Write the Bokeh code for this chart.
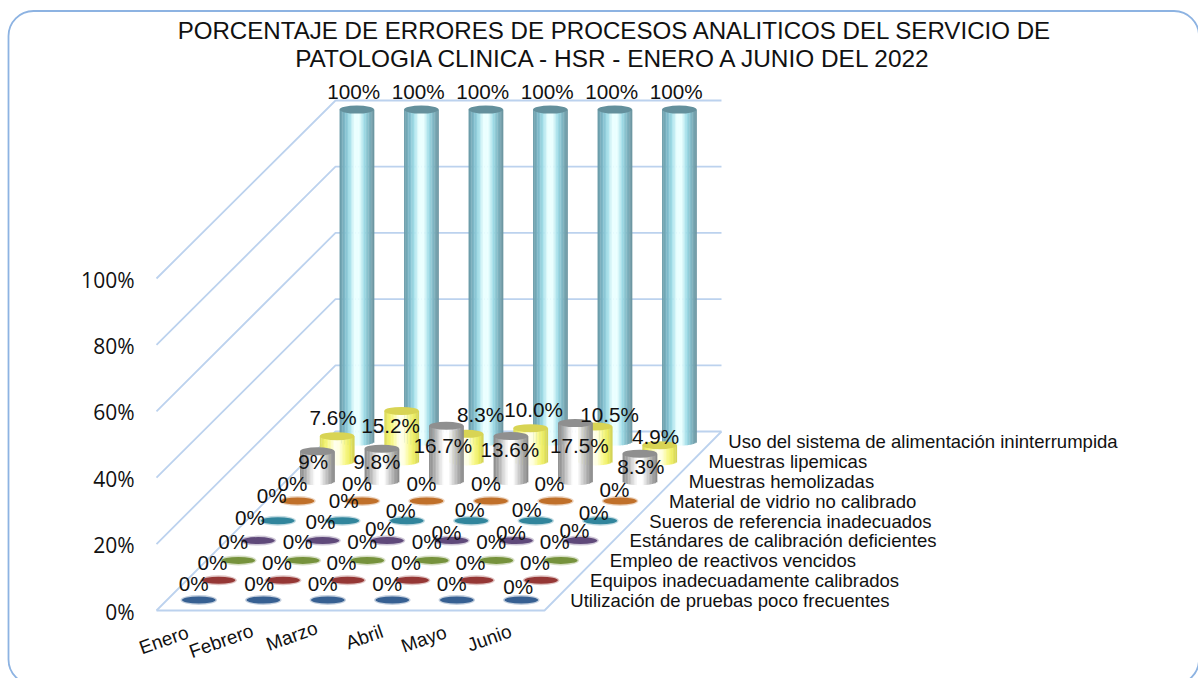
from bokeh.plotting import figure
from bokeh.models import Range1d, BoxAnnotation
from bokeh.core.properties import value
from bokeh.embed import file_html
from bokeh.resources import INLINE
import numpy as np

# ---------- data ----------
title_lines = ["PORCENTAJE DE ERRORES DE PROCESOS ANALITICOS DEL SERVICIO DE",
               "PATOLOGIA CLINICA - HSR - ENERO A JUNIO DEL 2022"]
months = ["Enero", "Febrero", "Marzo", "Abril", "Mayo", "Junio"]
series_names = ["Utilización de pruebas poco frecuentes",
                "Equipos inadecuadamente calibrados",
                "Empleo de reactivos vencidos",
                "Estándares de calibración deficientes",
                "Sueros de referencia inadecuados",
                "Material de vidrio no calibrado",
                "Muestras hemolizadas",
                "Muestras lipemicas",
                "Uso del sistema de alimentación ininterrumpida"]
utilizacion = [0, 0, 0, 0, 0, 0]
equipos = [0, 0, 0, 0, 0, 0]
reactivos = [0, 0, 0, 0, 0, 0]
estandares = [0, 0, 0, 0, 0, 0]
sueros = [0, 0, 0, 0, 0, 0]
vidrio = [0, 0, 0, 0, 0, 0]
hemolizadas = [9, 9.8, 16.7, 13.6, 17.5, 8.3]
lipemicas = [7.6, 15.2, 8.3, 10.0, 10.5, 4.9]
alimentacion = [100, 100, 100, 100, 100, 100]
value_labels = [["0%"] * 6] * 6 + [
    ["9%", "9.8%", "16.7%", "13.6%", "17.5%", "8.3%"],
    ["7.6%", "15.2%", "8.3%", "10.0%", "10.5%", "4.9%"],
    ["100%"] * 6]
ticks = [0, 20, 40, 60, 80, 100]
tick_labels = ["0%", "20%", "40%", "60%", "80%", "100%"]
all_series = [utilizacion, equipos, reactivos, estandares, sueros, vidrio,
              hemolizadas, lipemicas, alimentacion]

# ---------- styling ----------
BASE_COLORS = ["#376092", "#953735", "#76923c", "#5f497a", "#31859c", "#c0702a"]
GRADS = {
    6: (["#8a8a8a", "#a8a8a8", "#d8d8d8", "#ffffff", "#ffffff", "#d0d0d0", "#a8a8a8", "#868686"], "#8f8f8f"),
    7: (["#d8d860", "#f2f268", "#fbfba0", "#ffffee", "#ffffe0", "#fafa90", "#eeee60", "#d0d058"], "#d8d454"),
    8: (["#6a99a6", "#7db8c8", "#a0dde8", "#eaffff", "#eaffff", "#a0dde8", "#7fb5c2", "#6a929d"], "#64909c"),
}
GRID = "#bcd2ee"
FONT = value("Liberation Sans")
# label offsets from the projected top of each column (layout only)
OFF_X = [[-5, -4, -5, -5, -5, -3], [-6, -6, -6, -6, -6, -6], [-5, -5, -5, -5, -5, -6],
         [-8, -2, -7, -5, -5, -6], [-6, 1.5, -6, -1.5, -9, -6.5], [-5, -5, -5, -5, -6, -5.5],
         [-4, -5, -3.5, -1, 4, 1], [-4, -11, 14.5, 3, 14.5, -4], [-3, -3, -3, -3, -3, -3]]
OFF_Y = [[-17, -17, -17, -17, -17, -14], [-18, -18, -18, -18, -18, -18], [-19, -19, -19, -19, -19, -19],
         [-23, -19, -12, -8, -8, -10], [-25, -20, -10, -11, -11, -8], [-18, -18, -18, -18, -18, -12],
         [10, 13, 20, 13.5, 22, 12.6], [-19, 15, -19, -19, -12, -9], [-18, -18, -18, -18, -18, -18]]
MONTH_DX = [-35, -42, -36, -28, -33, -32]
MONTH_DY = [40, 41, 36, 37, 39, 38]
TITLE_SIZE = ["24.1px", "24.4px"]

# projection of (month, series, value) to the picture plane
X0, DX, DXJ = 198.3, 64.5, 19.75
Y0, DYJ, K = 599.5, 19.8, 3.32
def proj(i, j, v=0):
    return X0 + DX * i + DXJ * j, Y0 - DYJ * j - K * v

p = figure(width=1198, height=678, x_range=Range1d(0, 1198), y_range=Range1d(678, 0),
           output_backend="svg", toolbar_location=None, min_border=0,
           background_fill_color="white", border_fill_color="white")
p.axis.visible = False
p.grid.visible = False
p.outline_line_color = None

p.add_layout(BoxAnnotation(left=8, right=1198.5, top=10.5, bottom=684, border_radius=25,
                           fill_alpha=0, line_color="#8db3e2", line_alpha=1, line_width=1.8))

# walls and floor
for t in ticks:
    xb, yb = 335, 431 - 3.31 * t
    yl = 610 - 3.32 * t
    p.line([156, xb, 721], [yl, yb, yb], line_color=GRID, line_width=1.8)
p.line([156, 544, 721], [610, 610, 431], line_color=GRID, line_width=1.8)

# columns, back to front
W, H = 34.5, 8
for j in range(8, -1, -1):
    for i, v in enumerate(all_series[j]):
        cx, cy = proj(i, j)
        if j in GRADS:
            stops, top = GRADS[j]
            tx, ty = proj(i, j, v)
            n = 24
            edges = np.linspace(-W / 2, W / 2, n + 1)
            mids = (edges[:-1] + edges[1:]) / 2
            cols = []
            for m in mids:
                f = (m + W / 2) / W * (len(stops) - 1)
                a = int(f)
                b = min(a + 1, len(stops) - 1)
                ca = np.array([int(stops[a][k:k + 2], 16) for k in (1, 3, 5)])
                cb = np.array([int(stops[b][k:k + 2], 16) for k in (1, 3, 5)])
                c = ca + (cb - ca) * (f - a)
                cols.append("#%02x%02x%02x" % tuple(int(q) for q in c))
            bots = cy + (H / 2) * np.sqrt(np.clip(1 - (mids / (W / 2)) ** 2, 0, 1))
            p.quad(left=cx + edges[:-1], right=cx + edges[1:] + 0.3, top=ty, bottom=bots,
                   fill_color=cols, line_color=None)
            p.ellipse(x=tx, y=ty, width=W, height=H, fill_color=top, line_color=None)
        else:
            p.ellipse(x=cx, y=cy, width=W + 2, height=H + 2, fill_color=BASE_COLORS[j], fill_alpha=0.3, line_color=None)
            p.ellipse(x=cx, y=cy, width=W - 1, height=H - 1, fill_color=BASE_COLORS[j], line_color=None)

# data labels
for j, vals in enumerate(all_series):
    xs, ys = [], []
    for i, v in enumerate(vals):
        tx, ty = proj(i, j, v)
        xs.append(tx + OFF_X[j][i])
        ys.append(ty + OFF_Y[j][i])
    p.text(x=xs, y=ys, text=value_labels[j], text_font=FONT, text_font_size="20.7px",
           text_align="center", text_baseline="middle", text_color="#111111")

# series names along the depth axis
for j, name in enumerate(series_names):
    tx, ty = proj(0, j)
    p.text(x=[tx + 371.5], y=[ty + 0.3], text=[name], text_font=FONT, text_font_size="18.55px",
           text_align="left", text_baseline="middle", text_color="#111111")

# month labels
for i, m in enumerate(months):
    tx, ty = proj(i, 0)
    p.text(x=[tx + MONTH_DX[i]], y=[ty + MONTH_DY[i]], text=[m], text_font=FONT, text_font_size="19px",
           angle=0.34, text_align="center", text_baseline="middle", text_color="#111111")

# value axis labels
for t, lab in zip(ticks, tick_labels):
    p.text(x=[134], y=[611 - 3.32 * t], text=[lab], text_font=value("Open Sans"), text_font_size="21px",
           text_align="right", text_baseline="middle", text_color="#111111")

# title
for k, line in enumerate(title_lines):
    p.text(x=[614.5], y=[30 + 28 * k], text=[line], text_font=FONT, text_font_size=TITLE_SIZE[k],
           text_align="center", text_baseline="middle", text_color="#111111")

open("out.html", "w").write(file_html(p, INLINE))
